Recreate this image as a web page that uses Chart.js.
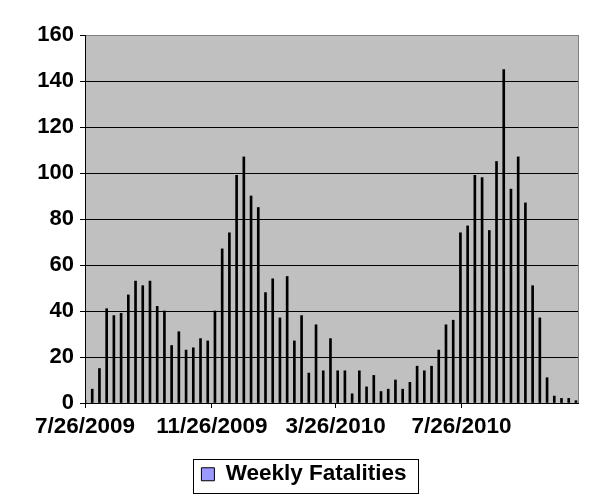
<!DOCTYPE html>
<html>
<head>
<meta charset="utf-8">
<script src="https://cdn.jsdelivr.net/npm/chart.js@4.4.1/dist/chart.umd.min.js"></script>
<style>
  html, body { margin: 0; padding: 0; background: #fff; }
  canvas { display: block; }
</style>
</head>
<body>
<canvas id="chart" width="608" height="504"></canvas>
<script>
// one value per week, first week starting 7/26/2009
const firstWeek = "2009-07-26";
const weeklyFatalities = [
  1, 6, 15, 41, 38, 39, 47, 53, 51, 53,
  42, 40, 25, 31, 23, 24, 28, 27, 40, 67,
  74, 99, 107, 90, 85, 48, 54, 37, 55, 27,
  38, 13, 34, 14, 28, 14, 14, 4, 14, 7,
  12, 5, 6, 10, 6, 9, 16, 14, 16, 23,
  34, 36, 74, 77, 99, 98, 75, 105, 145, 93,
  107, 87, 51, 37, 11, 3, 2, 2, 1,
];
const tickDates = ["2009-07-26", "2009-11-26", "2010-03-26", "2010-07-26"];
const axisEndDate = "2010-11-16";
const yMax = 160;
const yStep = 20;

const DAY = 86400000;
const start = Date.parse(firstWeek);
const dayOf = (s) => Math.round((Date.parse(s) - start) / DAY);
const shortDate = (s) => {
  const [y, m, d] = s.split("-").map(Number);
  return `${m}/${d}/${y}`;
};

const tickDays = tickDates.map(dayOf);
const tickLabels = tickDates.map(shortDate);
const points = weeklyFatalities.map((v, i) => ({ x: i * 7, y: v }));

const plotFrame = {
  id: "plotFrame",
  afterLayout(chart) {
    // legend sits a little right of centre in the original
    chart.legend.left += 15;
    chart.legend.right += 15;
  },
  beforeDraw(chart) {
    const { ctx, chartArea: a } = chart;
    ctx.save();
    ctx.fillStyle = "#C0C0C0";
    ctx.fillRect(a.left, a.top, a.right - a.left, a.bottom - a.top);
    ctx.restore();
  },
  afterDraw(chart) {
    const { ctx, chartArea: a } = chart;
    ctx.save();
    ctx.strokeStyle = "#808080";
    ctx.lineWidth = 1;
    ctx.beginPath();
    ctx.moveTo(a.right + 0.5, a.top);
    ctx.lineTo(a.right + 0.5, a.bottom);
    ctx.stroke();

    // box round the legend
    const hb = chart.legend.legendHitBoxes[0];
    if (hb) {
      ctx.strokeStyle = "#000";
      ctx.strokeRect(
        Math.round(hb.left - 8) + 0.5,
        Math.round(hb.top - 4) + 0.5,
        Math.round(hb.width + 20),
        Math.round(hb.height + 11)
      );
    }
    ctx.restore();
  },
};

new Chart(document.getElementById("chart"), {
  type: "bar",
  data: {
    datasets: [
      {
        label: "Weekly Fatalities",
        data: points,
        backgroundColor: "#000",
        borderWidth: 0,
        barThickness: 2,
      },
    ],
  },
  options: {
    responsive: false,
    animation: false,
    layout: {
      padding: { left: 0, right: 30, top: 35, bottom: 8.5 },
    },
    scales: {
      x: {
        type: "linear",
        min: 0,
        max: dayOf(axisEndDate),
        offset: false,
        afterBuildTicks: (scale) => {
          scale.ticks = tickDays.map((v) => ({ value: v }));
        },
        afterFit: (scale) => {
          scale.height = 50;
        },
        ticks: {
          autoSkip: false,
          maxRotation: 0,
          padding: 5,
          color: "#000",
          font: { family: "Liberation Sans", size: 22.5, weight: "bold" },
          callback: (value, index) => tickLabels[index],
        },
        grid: {
          offset: false,
          drawOnChartArea: false,
          drawTicks: true,
          tickLength: 5,
          tickColor: "#000",
        },
        border: { color: "#000", width: 1 },
      },
      y: {
        min: 0,
        max: yMax,
        afterFit: (scale) => {
          scale.width = 85;
        },
        ticks: {
          stepSize: yStep,
          padding: 6,
          color: "#000",
          font: { family: "Liberation Sans", size: 22, weight: "bold" },
        },
        grid: {
          color: (c) => (c.tick && c.tick.value === yMax ? "#808080" : "#000"),
          tickColor: "#000",
          tickLength: 5,
          lineWidth: 1,
        },
        border: { color: "#000", width: 1 },
      },
    },
    plugins: {
      tooltip: { enabled: false },
      legend: {
        display: true,
        position: "bottom",
        labels: {
          color: "#000",
          boxWidth: 13,
          boxHeight: 13,
          padding: 10,
          font: { family: "Liberation Sans", size: 22.5, weight: "bold" },
          generateLabels: () => [
            {
              text: "Weekly Fatalities",
              fillStyle: "#9999FF",
              strokeStyle: "#000",
              lineWidth: 1,
              hidden: false,
              datasetIndex: 0,
            },
          ],
        },
      },
    },
  },
  plugins: [plotFrame],
});
</script>
</body>
</html>
